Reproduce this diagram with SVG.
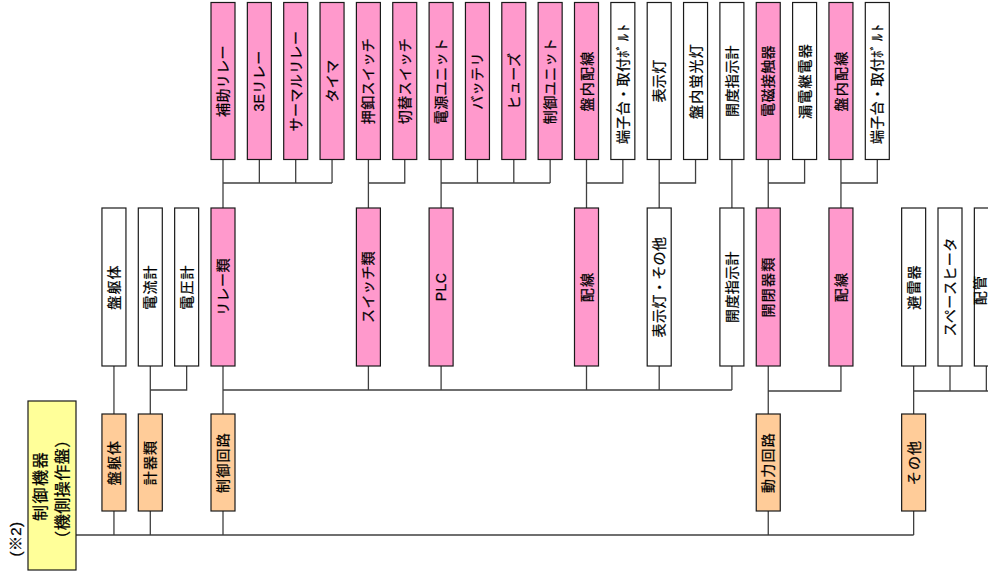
<svg xmlns="http://www.w3.org/2000/svg" width="988" height="574" viewBox="0 0 988 574">
<style>
.bx{stroke:#1a1a1a;stroke-width:1.2}
.w{fill:#ffffff}
.p{fill:#ff99cc}
.o{fill:#ffcc99}
.y{fill:#ffff99}
.c{stroke:#404040;stroke-width:1.3;fill:none}
text{font-family:"Liberation Sans","Noto Sans CJK JP",sans-serif;font-size:14px;fill:#000;stroke:#000;stroke-width:0.25px;text-anchor:middle;dominant-baseline:central;letter-spacing:0.4px}
.ls{letter-spacing:1.2px}
.ly1{font-size:16px;letter-spacing:1.5px}
.ly2{font-size:16px;letter-spacing:0.5px}
.hk{letter-spacing:2.6px}
.nt{font-size:15px}
</style>
<rect width="988" height="574" fill="#ffffff"/>
<g id="connectors">
<path class="c" d="M223,159.5V208 M223,183H332.05 M259.35,159.5V183 M295.7,159.5V183 M332.05,159.5V183"/>
<path class="c" d="M368.4,159.5V208 M368.4,183H404.75V159.5"/>
<path class="c" d="M441.1,159.5V208 M441.1,183H550.15 M477.45,159.5V183 M513.8,159.5V183 M550.15,159.5V183"/>
<path class="c" d="M586.5,159.5V208 M586.5,183H622.85V159.5"/>
<path class="c" d="M659.2,159.5V208 M659.2,183H695.55V159.5"/>
<path class="c" d="M731.9,159.5V208"/>
<path class="c" d="M768.25,159.5V208 M768.25,183H804.6V159.5"/>
<path class="c" d="M840.95,159.5V208 M840.95,183H877.3V159.5"/>
<path class="c" d="M113.95,366V414"/>
<path class="c" d="M150.3,366V414 M150.3,390H186.65V366"/>
<path class="c" d="M223,366V414 M223,390H731.9 M368.4,366V390 M441.1,366V390 M586.5,366V390 M659.2,366V390 M731.9,366V390"/>
<path class="c" d="M768.25,366V414 M768.25,391H840.95V366"/>
<path class="c" d="M913.65,366V414 M913.65,391H990 M950,366V391 M986.35,366V391"/>
<path class="c" d="M76,535H913.65 M113.95,511V535 M150.3,511V535 M223,511V535 M768.25,511V535 M913.65,511V535"/>
</g>
<g id="top-0"><rect class="bx p" x="211" y="2.5" width="24" height="157"/><text transform="translate(223,81) rotate(-90)">補助リレー</text></g>
<g id="top-1"><rect class="bx p" x="247.35" y="2.5" width="24" height="157"/><text transform="translate(259.35,81) rotate(-90)">3Eリレー</text></g>
<g id="top-2"><rect class="bx p" x="283.7" y="2.5" width="24" height="157"/><text transform="translate(295.7,81) rotate(-90)">サーマルリレー</text></g>
<g id="top-3"><rect class="bx p" x="320.05" y="2.5" width="24" height="157"/><text transform="translate(332.05,81) rotate(-90)">タイマ</text></g>
<g id="top-4"><rect class="bx p" x="356.4" y="2.5" width="24" height="157"/><text transform="translate(368.4,81) rotate(-90)">押釦スイッチ</text></g>
<g id="top-5"><rect class="bx p" x="392.75" y="2.5" width="24" height="157"/><text transform="translate(404.75,81) rotate(-90)">切替スイッチ</text></g>
<g id="top-6"><rect class="bx p" x="429.1" y="2.5" width="24" height="157"/><text transform="translate(441.1,81) rotate(-90)">電源ユニット</text></g>
<g id="top-7"><rect class="bx p" x="465.45" y="2.5" width="24" height="157"/><text transform="translate(477.45,81) rotate(-90)">バッテリ</text></g>
<g id="top-8"><rect class="bx p" x="501.8" y="2.5" width="24" height="157"/><text transform="translate(513.8,81) rotate(-90)">ヒューズ</text></g>
<g id="top-9"><rect class="bx p" x="538.15" y="2.5" width="24" height="157"/><text transform="translate(550.15,81) rotate(-90)">制御ユニット</text></g>
<g id="top-10"><rect class="bx p" x="574.5" y="2.5" width="24" height="157"/><text class="ls" transform="translate(586.5,81) rotate(-90)">盤内配線</text></g>
<g id="top-11"><rect class="bx w" x="610.85" y="2.5" width="24" height="157"/><text transform="translate(622.85,83) rotate(-90)">端子台・取付<tspan class="hk">ﾎﾞﾙﾄ</tspan></text></g>
<g id="top-12"><rect class="bx w" x="647.2" y="2.5" width="24" height="157"/><text transform="translate(659.2,81) rotate(-90)">表示灯</text></g>
<g id="top-13"><rect class="bx w" x="683.55" y="2.5" width="24" height="157"/><text class="ls" transform="translate(695.55,81) rotate(-90)">盤内蛍光灯</text></g>
<g id="top-14"><rect class="bx w" x="719.9" y="2.5" width="24" height="157"/><text transform="translate(731.9,81) rotate(-90)">開度指示計</text></g>
<g id="top-15"><rect class="bx p" x="756.25" y="2.5" width="24" height="157"/><text transform="translate(768.25,81) rotate(-90)">電磁接触器</text></g>
<g id="top-16"><rect class="bx w" x="792.6" y="2.5" width="24" height="157"/><text class="ls" transform="translate(804.6,81) rotate(-90)">漏電継電器</text></g>
<g id="top-17"><rect class="bx p" x="828.95" y="2.5" width="24" height="157"/><text class="ls" transform="translate(840.95,81) rotate(-90)">盤内配線</text></g>
<g id="top-18"><rect class="bx w" x="865.3" y="2.5" width="24" height="157"/><text transform="translate(877.3,83) rotate(-90)">端子台・取付<tspan class="hk">ﾎﾞﾙﾄ</tspan></text></g>
<g id="mid-banku"><rect class="bx w" x="101.95" y="208" width="24" height="158"/><text class="ls" transform="translate(113.95,287) rotate(-90)">盤躯体</text></g>
<g id="mid-denryu"><rect class="bx w" x="138.3" y="208" width="24" height="158"/><text class="ls" transform="translate(150.3,287) rotate(-90)">電流計</text></g>
<g id="mid-denatsu"><rect class="bx w" x="174.65" y="208" width="24" height="158"/><text class="ls" transform="translate(186.65,287) rotate(-90)">電圧計</text></g>
<g id="mid-relay"><rect class="bx p" x="211" y="208" width="24" height="158"/><text transform="translate(223,287) rotate(-90)">リレー類</text></g>
<g id="mid-switch"><rect class="bx p" x="356.4" y="208" width="24" height="158"/><text transform="translate(368.4,287) rotate(-90)">スイッチ類</text></g>
<g id="mid-plc"><rect class="bx p" x="429.1" y="208" width="24" height="158"/><text transform="translate(441.1,287) rotate(-90)">PLC</text></g>
<g id="mid-haisen1"><rect class="bx p" x="574.5" y="208" width="24" height="158"/><text class="ls" transform="translate(586.5,287) rotate(-90)">配線</text></g>
<g id="mid-hyoji"><rect class="bx w" x="647.2" y="208" width="24" height="158"/><text transform="translate(659.2,287) rotate(-90)">表示灯・その他</text></g>
<g id="mid-kaido"><rect class="bx w" x="719.9" y="208" width="24" height="158"/><text transform="translate(731.9,287) rotate(-90)">開度指示計</text></g>
<g id="mid-kaihei"><rect class="bx p" x="756.25" y="208" width="24" height="158"/><text class="ls" transform="translate(768.25,287) rotate(-90)">開閉器類</text></g>
<g id="mid-haisen2"><rect class="bx p" x="828.95" y="208" width="24" height="158"/><text class="ls" transform="translate(840.95,287) rotate(-90)">配線</text></g>
<g id="mid-hiraiki"><rect class="bx w" x="901.65" y="208" width="24" height="158"/><text class="ls" transform="translate(913.65,287) rotate(-90)">避雷器</text></g>
<g id="mid-heater"><rect class="bx w" x="938" y="208" width="24" height="158"/><text transform="translate(950,287) rotate(-90)">スペースヒータ</text></g>
<g id="mid-haikan"><rect class="bx w" x="974.35" y="208" width="24" height="158"/><text class="ls" transform="translate(980,290) rotate(-90)">配管</text></g>
<g id="grp-banku"><rect class="bx o" x="101.95" y="414" width="24" height="97"/><text class="ls" transform="translate(113.95,462.5) rotate(-90)">盤躯体</text></g>
<g id="grp-keiki"><rect class="bx o" x="138.3" y="414" width="24" height="97"/><text class="ls" transform="translate(150.3,462.5) rotate(-90)">計器類</text></g>
<g id="grp-seigyo"><rect class="bx o" x="211" y="414" width="24" height="97"/><text class="ls" transform="translate(223,462.5) rotate(-90)">制御回路</text></g>
<g id="grp-doryoku"><rect class="bx o" x="756.25" y="414" width="24" height="97"/><text class="ls" transform="translate(768.25,462.5) rotate(-90)">動力回路</text></g>
<g id="grp-sonota"><rect class="bx o" x="901.65" y="414" width="24" height="97"/><text class="ls" transform="translate(913.65,462.5) rotate(-90)">その他</text></g>
<g id="root"><rect class="bx y" x="28" y="401" width="48" height="169"/><text class="ly1" transform="translate(40.5,486) rotate(-90)">制御機器</text><text class="ly2" transform="translate(62.5,489) rotate(-90)">（機側操作盤）</text></g>
<g id="note"><text class="nt" transform="translate(15.5,539) rotate(-90)">(※2)</text></g>
</svg>
